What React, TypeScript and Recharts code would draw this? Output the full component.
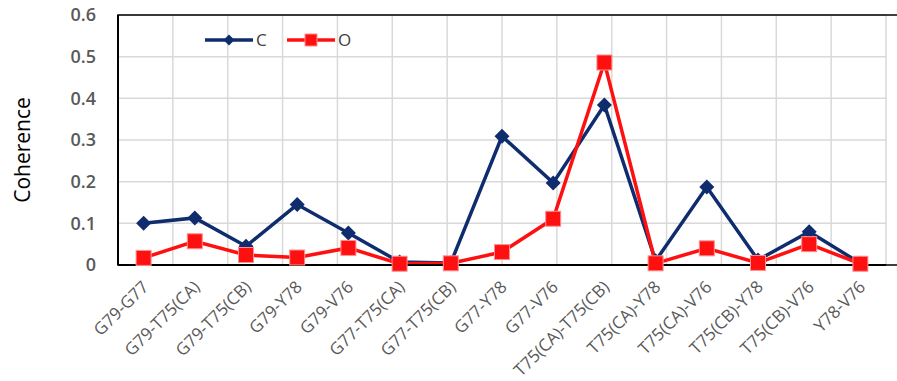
import { LineChart, Line, XAxis, YAxis, CartesianGrid, ReferenceArea } from "recharts";

const pairs = [
  "G79-G77", "G79-T75(CA)", "G79-T75(CB)", "G79-Y78", "G79-V76",
  "G77-T75(CA)", "G77-T75(CB)", "G77-Y78", "G77-V76", "T75(CA)-T75(CB)",
  "T75(CA)-Y78", "T75(CA)-V76", "T75(CB)-Y78", "T75(CB)-V76", "Y78-V76",
];
const seriesC = [0.1, 0.113, 0.045, 0.145, 0.077, 0.007, 0.005, 0.309, 0.197, 0.384, 0.01, 0.187, 0.012, 0.08, 0.004];
const seriesO = [0.017, 0.057, 0.024, 0.018, 0.041, 0.003, 0.004, 0.031, 0.111, 0.486, 0.004, 0.04, 0.005, 0.05, 0.003];
const yTicks = [0, 0.1, 0.2, 0.3, 0.4, 0.5, 0.6];
const gridTicks = [0, 1, 2, 3, 4, 5, 6, 7, 8, 9, 10, 11, 12, 13, 14, 15];

const data = pairs.map((p, i) => ({ pair: p, C: seriesC[i], O: seriesO[i] }));

const NAVY = "#0f2d6e";
const RED = "#ff1010";
const FONT = "'Open Sans', sans-serif";

function Diamond({ cx, cy, size = 7.5 }: any) {
  if (cx == null || cy == null) return null;
  return <polygon points={`${cx},${cy - size} ${cx + size},${cy} ${cx},${cy + size} ${cx - size},${cy}`} fill={NAVY} />;
}

function Square({ cx, cy, size = 7.5 }: any) {
  if (cx == null || cy == null) return null;
  return <rect x={cx - size} y={cy - size} width={size * 2} height={size * 2} fill={RED} stroke="#ff9090" strokeWidth={1} />;
}

function XTick({ x, y, payload }: any) {
  const tx = x + 6;
  const ty = y + 15;
  return (
    <text x={tx} y={ty} transform={`rotate(-45, ${tx}, ${ty})`} textAnchor="end"
      fontSize={17} fill="#595959" fontFamily={FONT}>
      {payload.value}
    </text>
  );
}

function LegendBox() {
  return (
    <svg width={200} height={30} style={{ position: "absolute", left: 200, top: 25 }}>
      <line x1={5} x2={53} y1={15} y2={15} stroke={NAVY} strokeWidth={3.5} />
      <Diamond cx={29} cy={15} size={5.5} />
      <text x={56} y={21} fontSize={17} fill="#404040" fontFamily={FONT}>C</text>
      <line x1={87} x2={135} y1={15} y2={15} stroke={RED} strokeWidth={3.5} />
      <Square cx={111} cy={15} size={6} />
      <text x={138} y={21} fontSize={17} fill="#404040" fontFamily={FONT}>O</text>
    </svg>
  );
}

function YLabel({ viewBox }: any) {
  const cx = 22;
  const cy = viewBox.y + viewBox.height / 2 + 10;
  return (
    <text x={cx} y={cy} transform={`rotate(-90, ${cx}, ${cy})`} textAnchor="middle" dominantBaseline="central"
      fontSize={21} fill="#000" fontFamily={FONT}>
      Coherence
    </text>
  );
}

export default function App() {
  return (
    <div style={{ position: "absolute", left: 0, top: 0, width: 897, height: 381, background: "#fff" }}>
      <LineChart width={897} height={381} data={data} margin={{ top: 15, right: 11, bottom: 6, left: 58 }}>
        <XAxis xAxisId="grid" type="number" domain={[0, 15]} ticks={gridTicks} hide />
        <CartesianGrid xAxisId="grid" stroke="#d9d9d9" strokeWidth={1.5} />
        <XAxis dataKey="pair" scale="band" interval={0} tick={<XTick />} tickLine={false} height={110}
          axisLine={{ stroke: "#000", strokeWidth: 2 }} />
        <YAxis domain={[0, 0.6]} ticks={yTicks} width={60} tickLine={false}
          axisLine={{ stroke: "#000", strokeWidth: 2 }}
          tick={{ fontSize: 18, fill: "#595959", fontFamily: FONT, fontWeight: 600 }}
          tickMargin={16}
          label={<YLabel />} />
        <ReferenceArea xAxisId="grid" x1={0} x2={15} y1={0} y2={0.6} fill="none" stroke="#000" strokeWidth={1.5} ifOverflow="visible" />
        <Line dataKey="C" stroke={NAVY} strokeWidth={3.5} dot={<Diamond />} isAnimationActive={false} />
        <Line dataKey="O" stroke={RED} strokeWidth={3.5} dot={<Square />} isAnimationActive={false} />
      </LineChart>
      <LegendBox />
    </div>
  );
}
